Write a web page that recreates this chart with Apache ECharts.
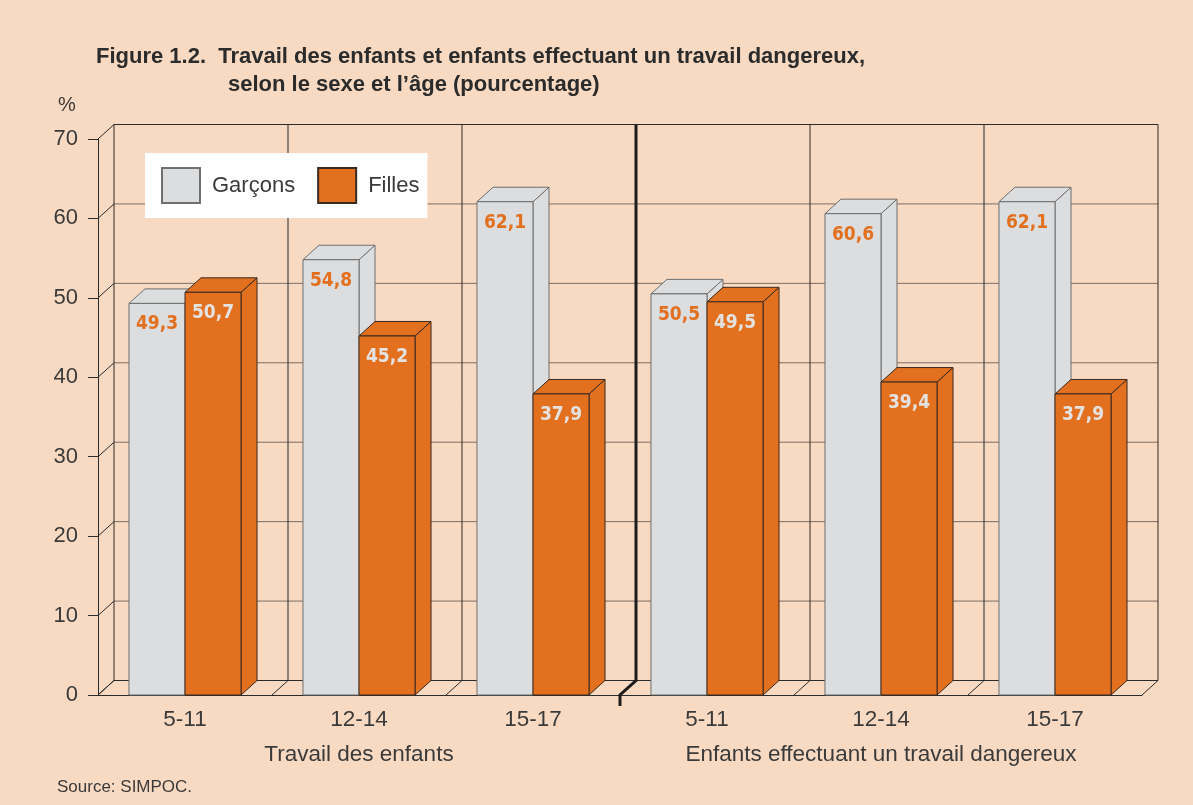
<!DOCTYPE html>
<html>
<head>
<meta charset="utf-8">
<script src="https://cdn.jsdelivr.net/npm/echarts@6/dist/echarts.min.js"></script>
<style>
  html, body { margin: 0; padding: 0; background: #F8D9C1; }
  #chart { width: 1193px; height: 805px; }
</style>
</head>
<body>
<div id="chart"></div>
<script>
// ---- données ----
var categories = ['5-11', '12-14', '15-17', '5-11', '12-14', '15-17'];
var groups = ['Travail des enfants', 'Enfants effectuant un travail dangereux'];
var garcons = [49.3, 54.8, 62.1, 50.5, 60.6, 62.1];
var filles = [50.7, 45.2, 37.9, 49.5, 39.4, 37.9];
var valueTicks = [0, 10, 20, 30, 40, 50, 60, 70];

// ---- style ----
var BG = '#F8D9C1';
var GRAY = '#DCDDDF';
var ORANGE = '#E2701F';
var DX = 16, DY = 14.5;          // profondeur de l'effet 3D
var LABEL_FONT = "'Liberation Sans Narrow', 'DejaVu Sans Condensed', sans-serif";
var TEXT_FONT = "'Liberation Sans', sans-serif";

// mur du fond : lignes horizontales + petites diagonales sur l'axe
function wallItem(params, api) {
    var v = api.value(0);
    var cw = api.size([1, 0])[0];
    var y = api.coord([0, v])[1];
    var xL = api.coord([0, 0])[0] - cw / 2;
    var xR = api.coord([categories.length - 1, 0])[0] + cw / 2;
    var dark = (v === 0 || v === valueTicks[valueTicks.length - 1]);
    return {
        type: 'group',
        children: [
            { type: 'line', shape: { x1: xL + DX, y1: y - DY, x2: xR + DX, y2: y - DY },
              style: { stroke: dark ? '#2b2b2b' : '#7d6d63', lineWidth: 1 } },
            { type: 'line', shape: { x1: xL, y1: y, x2: xL + DX, y2: y - DY },
              style: { stroke: '#2b2b2b', lineWidth: 1 } }
        ]
    };
}

// séparations verticales et diagonales du sol
function cellItem(params, api) {
    var i = api.value(0);
    var cw = api.size([1, 0])[0];
    var base = api.coord([i, 0]);
    var topY = api.coord([i, valueTicks[valueTicks.length - 1]])[1];
    var xs = [base[0] - cw / 2];
    if (i === categories.length - 1) xs.push(base[0] + cw / 2);
    var children = [];
    xs.forEach(function (x) {
        if (i === 3 && xs[0] === x) {
            children.push({ type: 'polyline',
                shape: { points: [[x, base[1] + 11], [x, base[1]], [x + DX, base[1] - DY], [x + DX, topY - DY]] },
                style: { stroke: '#1e1e1e', lineWidth: 3, fill: null } });
        } else {
            children.push({ type: 'line', shape: { x1: x + DX, y1: base[1] - DY, x2: x + DX, y2: topY - DY },
                style: { stroke: '#2b2b2b', lineWidth: 1 } });
            children.push({ type: 'line', shape: { x1: x, y1: base[1], x2: x + DX, y2: base[1] - DY },
                style: { stroke: '#2b2b2b', lineWidth: 1 } });
        }
    });
    return { type: 'group', children: children };
}

// barre 3D : face avant, dessus, côté, étiquette
function barItem(side, fill, stroke, labelColor) {
    return function (params, api) {
        var idx = api.value(0), val = api.value(1);
        var top = api.coord([idx, val]);
        var base = api.coord([idx, 0]);
        var bw = api.size([1, 0])[0] * 0.322;
        var x0 = side < 0 ? top[0] - bw : top[0];
        var x1 = x0 + bw;
        var yt = top[1], yb = base[1];
        var st = { fill: fill, stroke: stroke, lineWidth: 1 };
        return {
            type: 'group',
            children: [
                { type: 'polygon', shape: { points: [[x1, yb], [x1 + DX, yb - DY], [x1 + DX, yt - DY], [x1, yt]] }, style: st },
                { type: 'polygon', shape: { points: [[x0, yt], [x1, yt], [x1 + DX, yt - DY], [x0 + DX, yt - DY]] }, style: st },
                { type: 'rect', shape: { x: x0, y: yt, width: bw, height: yb - yt }, style: st },
                { type: 'text', x: (x0 + x1) / 2, y: yt + 21,
                  style: { text: String(val).replace('.', ','), fill: labelColor,
                           font: 'bold 19px ' + LABEL_FONT, align: 'center', verticalAlign: 'middle' } }
            ]
        };
    };
}

var chart = echarts.init(document.getElementById('chart'));

var titleStyle = { fontFamily: TEXT_FONT, fontSize: 22, fontWeight: 'bold', color: '#2b2b2b' };
var plainStyle = { fontFamily: TEXT_FONT, fontWeight: 'normal', color: '#3a3a3a' };

chart.setOption({
    backgroundColor: BG,
    animation: false,
    title: [
        { text: 'Figure 1.2.  Travail des enfants et enfants effectuant un travail dangereux,',
          left: 96, top: 46, padding: 0, textStyle: titleStyle },
        { text: 'selon le sexe et l\u2019âge (pourcentage)',
          left: 228, top: 74, padding: 0, textStyle: titleStyle },
        { text: '%', left: 58, top: 95, padding: 0, textStyle: Object.assign({ fontSize: 20 }, plainStyle) },
        { text: 'Source: SIMPOC.', left: 57, top: 779, padding: 0, textStyle: Object.assign({ fontSize: 17 }, plainStyle) }
    ],
    legend: {
        left: 145, top: 153,
        backgroundColor: '#ffffff',
        padding: [14, 8, 14, 16],
        itemWidth: 38, itemHeight: 35, itemGap: 22,
        icon: 'rect',
        textStyle: { fontFamily: TEXT_FONT, fontSize: 22, color: '#3a3a3a', padding: [0, 0, 0, 7] },
        data: ['Garçons', 'Filles']
    },
    grid: { left: 98, top: 139, width: 1044, height: 556 },
    xAxis: [
        { type: 'category', data: categories,
          axisLine: { lineStyle: { color: '#2b2b2b', width: 1 } },
          axisTick: { length: 11, lineStyle: { color: '#2b2b2b' } },
          axisLabel: { margin: 13, fontFamily: TEXT_FONT, fontSize: 22.5, color: '#3a3a3a' } },
        { type: 'category', data: groups, position: 'bottom',
          axisLine: { show: false }, axisTick: { show: false },
          axisLabel: { margin: 48, fontFamily: TEXT_FONT, fontSize: 22.5, color: '#3a3a3a' } }
    ],
    yAxis: {
        type: 'value', min: 0, max: 70, interval: 10,
        axisLine: { show: true, lineStyle: { color: '#2b2b2b', width: 1 } },
        axisTick: { show: true, length: 10, lineStyle: { color: '#2b2b2b' } },
        splitLine: { show: false },
        axisLabel: { margin: 20, fontFamily: TEXT_FONT, fontSize: 22, color: '#3a3a3a' }
    },
    series: [
        { type: 'custom', name: 'mur', silent: true, clip: false, z: 1,
          renderItem: wallItem, data: valueTicks.map(function (v) { return [v]; }) },
        { type: 'custom', name: 'cases', silent: true, clip: false, z: 1,
          renderItem: cellItem, data: categories.map(function (c, i) { return [i]; }) },
        { type: 'custom', name: 'Garçons', clip: false, z: 2,
          itemStyle: { color: GRAY, borderColor: '#6f6f6f', borderWidth: 1 },
          renderItem: barItem(-1, GRAY, '#6f6f6f', ORANGE),
          data: garcons.map(function (v, i) { return [i, v]; }) },
        { type: 'custom', name: 'Filles', clip: false, z: 3,
          itemStyle: { color: ORANGE, borderColor: '#3a2a20', borderWidth: 1 },
          renderItem: barItem(1, ORANGE, '#3a2a20', '#E4E2E0'),
          data: filles.map(function (v, i) { return [i, v]; }) }
    ]
});
</script>
</body>
</html>
